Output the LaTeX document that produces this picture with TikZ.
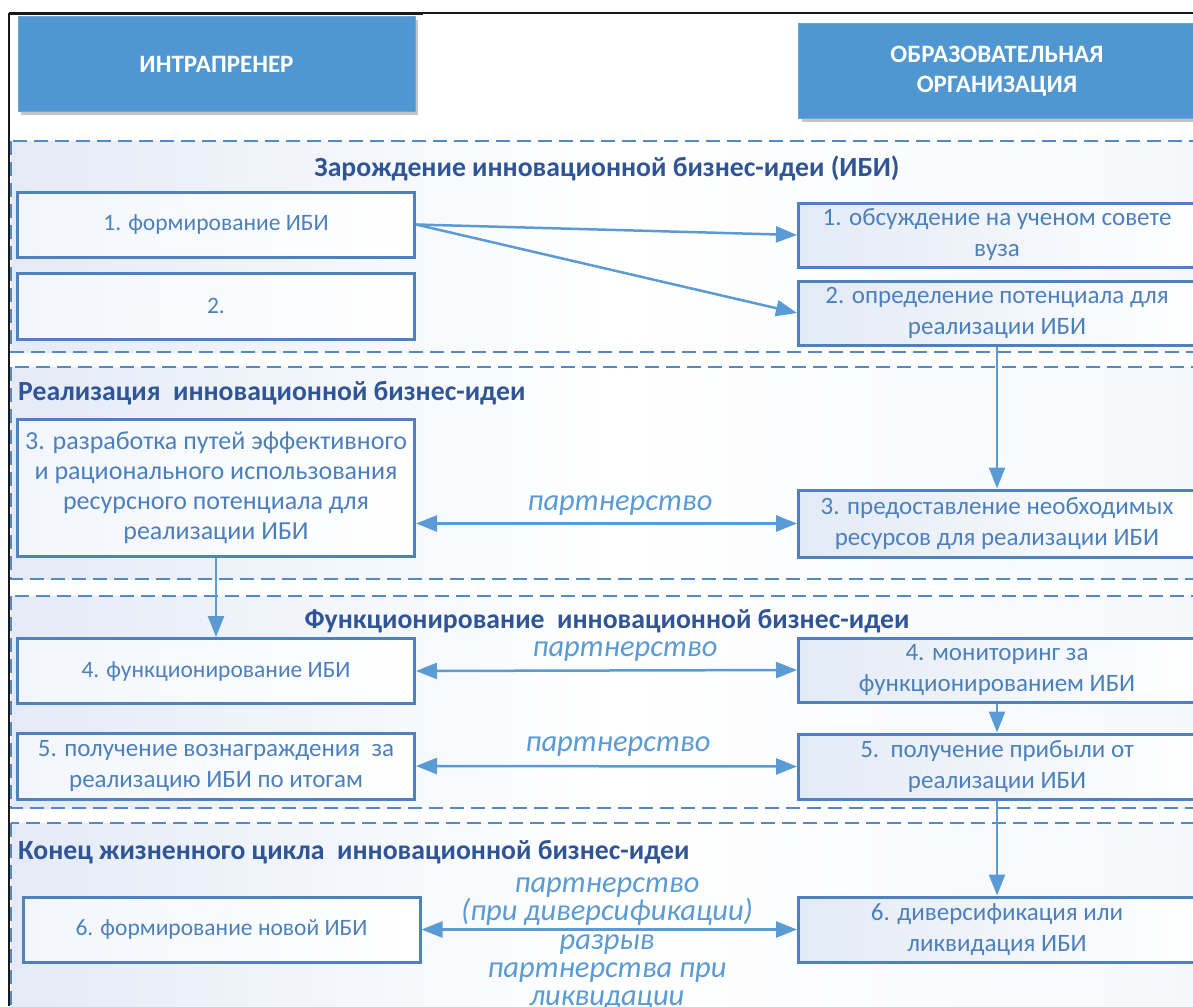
\documentclass[tikz,border=0pt]{standalone}
\usepackage{fontspec}
\setmainfont{Carlito}
\usetikzlibrary{arrows.meta,shadows}
\definecolor{hdrblue}{RGB}{80,151,210}
\definecolor{boxborder}{RGB}{79,129,189}
\definecolor{boxtext}{RGB}{76,128,188}
\definecolor{titleblue}{RGB}{47,85,151}
\definecolor{arrowblue}{RGB}{91,155,213}
\definecolor{dashblue}{RGB}{82,138,200}
\definecolor{bandL}{RGB}{228,235,246}
\definecolor{bandR}{RGB}{245,247,251}
\definecolor{boxL}{RGB}{226,234,245}
\begin{document}
\begin{tikzpicture}[x=1pt,y=-1pt,
  band/.style={draw=dashblue, line width=1.8pt, dash pattern=on 14pt off 7pt, left color=bandL, right color=bandR, middle color=white},
  hdr/.style={fill=hdrblue, draw=hdrblue!85!white, line width=0.8pt, text=white, align=center,
     font=\fontsize{25}{30}\selectfont\bfseries, minimum width=397pt, minimum height=95pt, inner sep=0pt,
     drop shadow={shadow xshift=3pt, shadow yshift=-4pt, fill=black!45, opacity=0.5}},
  lbox/.style={draw=boxborder, line width=3pt, minimum width=397pt, minimum height=#1, inner sep=0pt,
     align=center, text=boxtext, font=\fontsize{25}{31}\selectfont, left color=boxL!45, right color=white},
  lbox/.default=64pt,
  rbox/.style={lbox=#1, left color=boxL, right color=white},
  rbox/.default=64pt,
  small/.style={font=\fontsize{23.5}{30}\selectfont},
  ttl/.style={text=titleblue, font=\fontsize{27.7}{30}\selectfont\bfseries, inner sep=0pt},
  lbl/.style={text=arrowblue, font=\fontsize{30.5}{28}\selectfont\itshape, align=center, inner sep=0pt},
  tipA/.tip={Triangle[length=21pt,width=16pt]},
  conn/.style={draw=arrowblue, line width=2.5pt, -tipA},
  conn2/.style={draw=arrowblue, line width=2.5pt, tipA-tipA}
]
\clip (0,0) rectangle (1193,1006);
\fill[white] (0,0) rectangle (1193,1006);

% bands
\path[band] (11,141) rectangle (1215,352);
\path[band] (11,367) rectangle (1215,579);
\path[band] (11,596) rectangle (1215,808);
\path[band] (11,823) rectangle (1215,1030);

% frame
\draw[black!90, line width=1.2pt] (9,13) -- (1193,13);
\draw[black!90, line width=2.4pt] (9,14) -- (423,14);
\draw[black!90, line width=1.2pt] (9,13) -- (9,1006);

% headers
\node[hdr] (hI) at (216.5,64) {ИНТРАПРЕНЕР};
\node[hdr] (hO) at (997,71) {ОБРАЗОВАТЕЛЬНАЯ\\ОРГАНИЗАЦИЯ};

% titles
\node[ttl] (t1) at (607,168) {Зарождение инновационной бизнес-идеи (ИБИ)};
\node[ttl, anchor=west] (t2) at (18,393) {Реализация\ \ инновационной бизнес-идеи};
\node[ttl] (t3) at (607,621) {Функционирование\ \ инновационной бизнес-идеи};
\node[ttl, anchor=west] (t4) at (18,852) {Конец жизненного цикла\ \ инновационной бизнес-идеи};

% left boxes
\node[lbox=65pt, small] (L1) at (216,224.5) {1. формирование ИБИ};
\node[lbox=66pt, small] (L2) at (216,306) {2.};
\node[lbox=137pt, font=\fontsize{26}{30}\selectfont] (L3) at (216,488) {3. разработка путей эффективного\\и рационального использования\\ресурсного потенциала для\\реализации ИБИ};
\node[lbox=65pt, small] (L4) at (216,671) {4. функционирование ИБИ};
\node[lbox=66pt] (L5) at (216,766) {5. получение вознаграждения\ \ за\\реализацию ИБИ по итогам};
\node[lbox=65pt, small] (L6) at (221.5,929.5) {6. формирование новой ИБИ};

% right boxes
\node[rbox=64pt] (R1) at (997,235) {1. обсуждение на ученом совете\\вуза};
\node[rbox=64pt] (R2) at (997,313) {2. определение потенциала для\\реализации ИБИ};
\node[rbox=67pt] (R3) at (997,523.5) {3. предоставление необходимых\\ресурсов для реализации ИБИ};
\node[rbox=64pt] (R4) at (997,670) {4. мониторинг за\\функционированием ИБИ};
\node[rbox=65pt] (R5) at (997,766.5) {5.\ \ получение прибыли от\\реализации ИБИ};
\node[rbox=65pt] (R6) at (997,929.5) {6. диверсификация или\\ликвидация ИБИ};

% labels
\node[lbl] (p3) at (620,506) {партнерство};
\node[lbl] (p4) at (625,652) {партнерство};
\node[lbl] (p5) at (618,747) {партнерство};
\node[lbl] (p6a) at (607,902) {партнерство\\(при диверсификации)};
\node[lbl] (p6b) at (607,973) {разрыв\\партнерства при\\ликвидации};

% connectors
\draw[conn] (L1.east) -- (R1.west);
\draw[conn] (L1.east) -- (R2.west);
\draw[conn] (R2.south) -- (R3.north);
\draw[conn2] (R3.west -| L3.east) -- (R3.west);
\draw[conn] (L3.south) -- (L4.north);
\draw[conn2] (L4.east) -- (R4.west);
\draw[conn] (R4.south) -- (R5.north);
\draw[conn2] (L5.east) -- (R5.west);
\draw[conn] (R5.south) -- (R6.north);
\draw[conn2] (L6.east) -- (R6.west);
\end{tikzpicture}
\end{document}
